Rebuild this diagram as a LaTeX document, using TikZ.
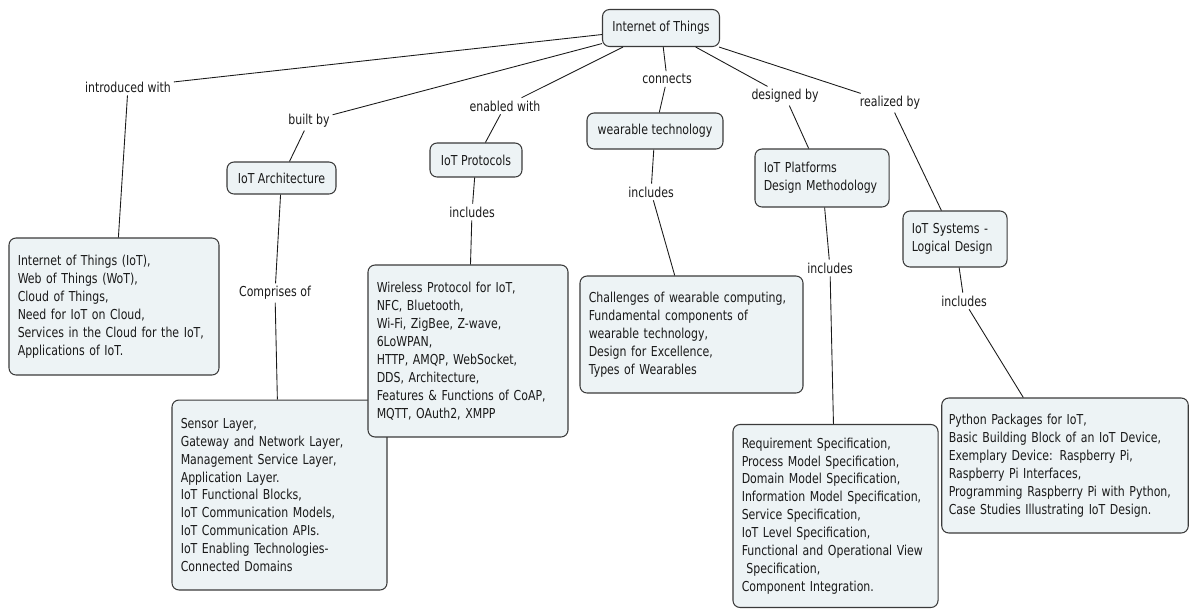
\documentclass[tikz,border=0pt]{standalone}
\usepackage{fontspec}
\setmainfont{DejaVu Sans}[FakeStretch=0.80]
\usetikzlibrary{positioning}
\definecolor{cmFill}{HTML}{EDF3F5}
\definecolor{cmEdge}{HTML}{3A3A3A}
\definecolor{cmInk}{HTML}{1A1A1A}
\newcommand{\cmfont}{\fontsize{7.8}{10.2}\selectfont}
\tikzset{
  cpt/.style={draw=cmEdge, fill=cmFill, rounded corners=4pt, line width=0.6pt, inner xsep=5pt, inner ysep=2pt, font=\cmfont, text=cmInk, align=left},
  cptOne/.style={cpt, align=center},
  lnk/.style={inner sep=1.5pt, font=\cmfont, text=cmInk},
  cx/.style={draw=cmInk, line width=0.5pt},
}
\begin{document}
\begin{tikzpicture}[x=0.02cm, y=-0.02cm]
  \useasboundingbox (0,0) rectangle (1190,609);
  % concepts
  \node[cptOne, minimum width=2.34cm, minimum height=0.74cm] (root) at (661,28) {Internet of Things};
  \node[cpt, text width=3.85cm, minimum height=2.74cm] (intro) at (114,306.5) {Internet of Things (IoT),\\Web of Things (WoT),\\Cloud of Things,\\Need for IoT on Cloud,\\Services in the Cloud for the IoT,\\Applications of IoT.};
  \node[cptOne, minimum width=2.18cm, minimum height=0.64cm] (arch) at (281.5,178) {IoT Architecture};
  \node[cpt, text width=3.95cm, minimum height=3.80cm] (sensor) at (279.5,495) {Sensor Layer,\\Gateway and Network Layer,\\Management Service Layer,\\Application Layer.\\IoT Functional Blocks,\\IoT Communication Models,\\IoT Communication APIs.\\IoT Enabling Technologies-\\Connected Domains};
  \node[cptOne, minimum width=1.84cm, minimum height=0.68cm] (proto) at (476,160) {IoT Protocols};
  \node[cpt, text width=3.65cm, minimum height=3.44cm] (protoList) at (468,351) {Wireless Protocol for IoT,\\NFC, Bluetooth,\\Wi-Fi, ZigBee, Z-wave,\\6LoWPAN,\\HTTP, AMQP, WebSocket,\\DDS, Architecture,\\Features \& Functions of CoAP,\\MQTT, OAuth2, XMPP};
  \node[cptOne, minimum width=2.72cm, minimum height=0.72cm] (wear) at (655,131) {wearable technology};
  \node[cpt, text width=4.11cm, minimum height=2.34cm] (wearList) at (691.5,334.5) {Challenges of wearable computing,\\Fundamental components of\\wearable technology,\\Design for Excellence,\\Types of Wearables};
  \node[cpt, text width=2.33cm, minimum height=1.16cm] (plat) at (822,178) {IoT Platforms\\Design Methodology};
  \node[cpt, text width=3.75cm, minimum height=3.66cm] (platList) at (835.5,516) {Requirement Specification,\\Process Model Specification,\\Domain Model Specification,\\Information Model Specification,\\Service Specification,\\IoT Level Specification,\\Functional and Operational View\\\ Specification,\\Component Integration.};
  \node[cpt, text width=1.73cm, minimum height=1.12cm] (sys) at (955,239) {IoT Systems -\\Logical Design};
  \node[cpt, inner xsep=4pt, text width=4.65cm, minimum height=2.70cm] (python) at (1065,465.5) {Python Packages for IoT,\\Basic Building Block of an IoT Device,\\Exemplary Device: Raspberry Pi,\\Raspberry Pi Interfaces,\\Programming Raspberry Pi with Python,\\Case Studies Illustrating IoT Design.};
  % linking phrases
  \node[lnk] (lIntro) at (128,87) {introduced with};
  \node[lnk] (lBuilt) at (309,121) {built by};
  \node[lnk] (lComp) at (275,293) {Comprises of};
  \node[lnk] (lEnab) at (505,106) {enabled with};
  \node[lnk] (lIncP) at (472,212) {includes};
  \node[lnk] (lConn) at (667,79) {connects};
  \node[lnk] (lIncW) at (651,192) {includes};
  \node[lnk] (lDes) at (785,96) {designed by};
  \node[lnk] (lIncPf) at (830,268) {includes};
  \node[lnk] (lReal) at (890,103) {realized by};
  \node[lnk] (lIncS) at (964,301) {includes};
  % connectors
  \foreach \u/\v in {root/lIntro,lIntro/intro,root/lBuilt,lBuilt/arch,arch/lComp,lComp/sensor,
    root/lEnab,lEnab/proto,proto/lIncP,lIncP/protoList,root/lConn,lConn/wear,wear/lIncW,lIncW/wearList,
    root/lDes,lDes/plat,plat/lIncPf,lIncPf/platList,root/lReal,lReal/sys,sys/lIncS,lIncS/python}
    \draw[cx] (\u) -- (\v);
\end{tikzpicture}
\end{document}
